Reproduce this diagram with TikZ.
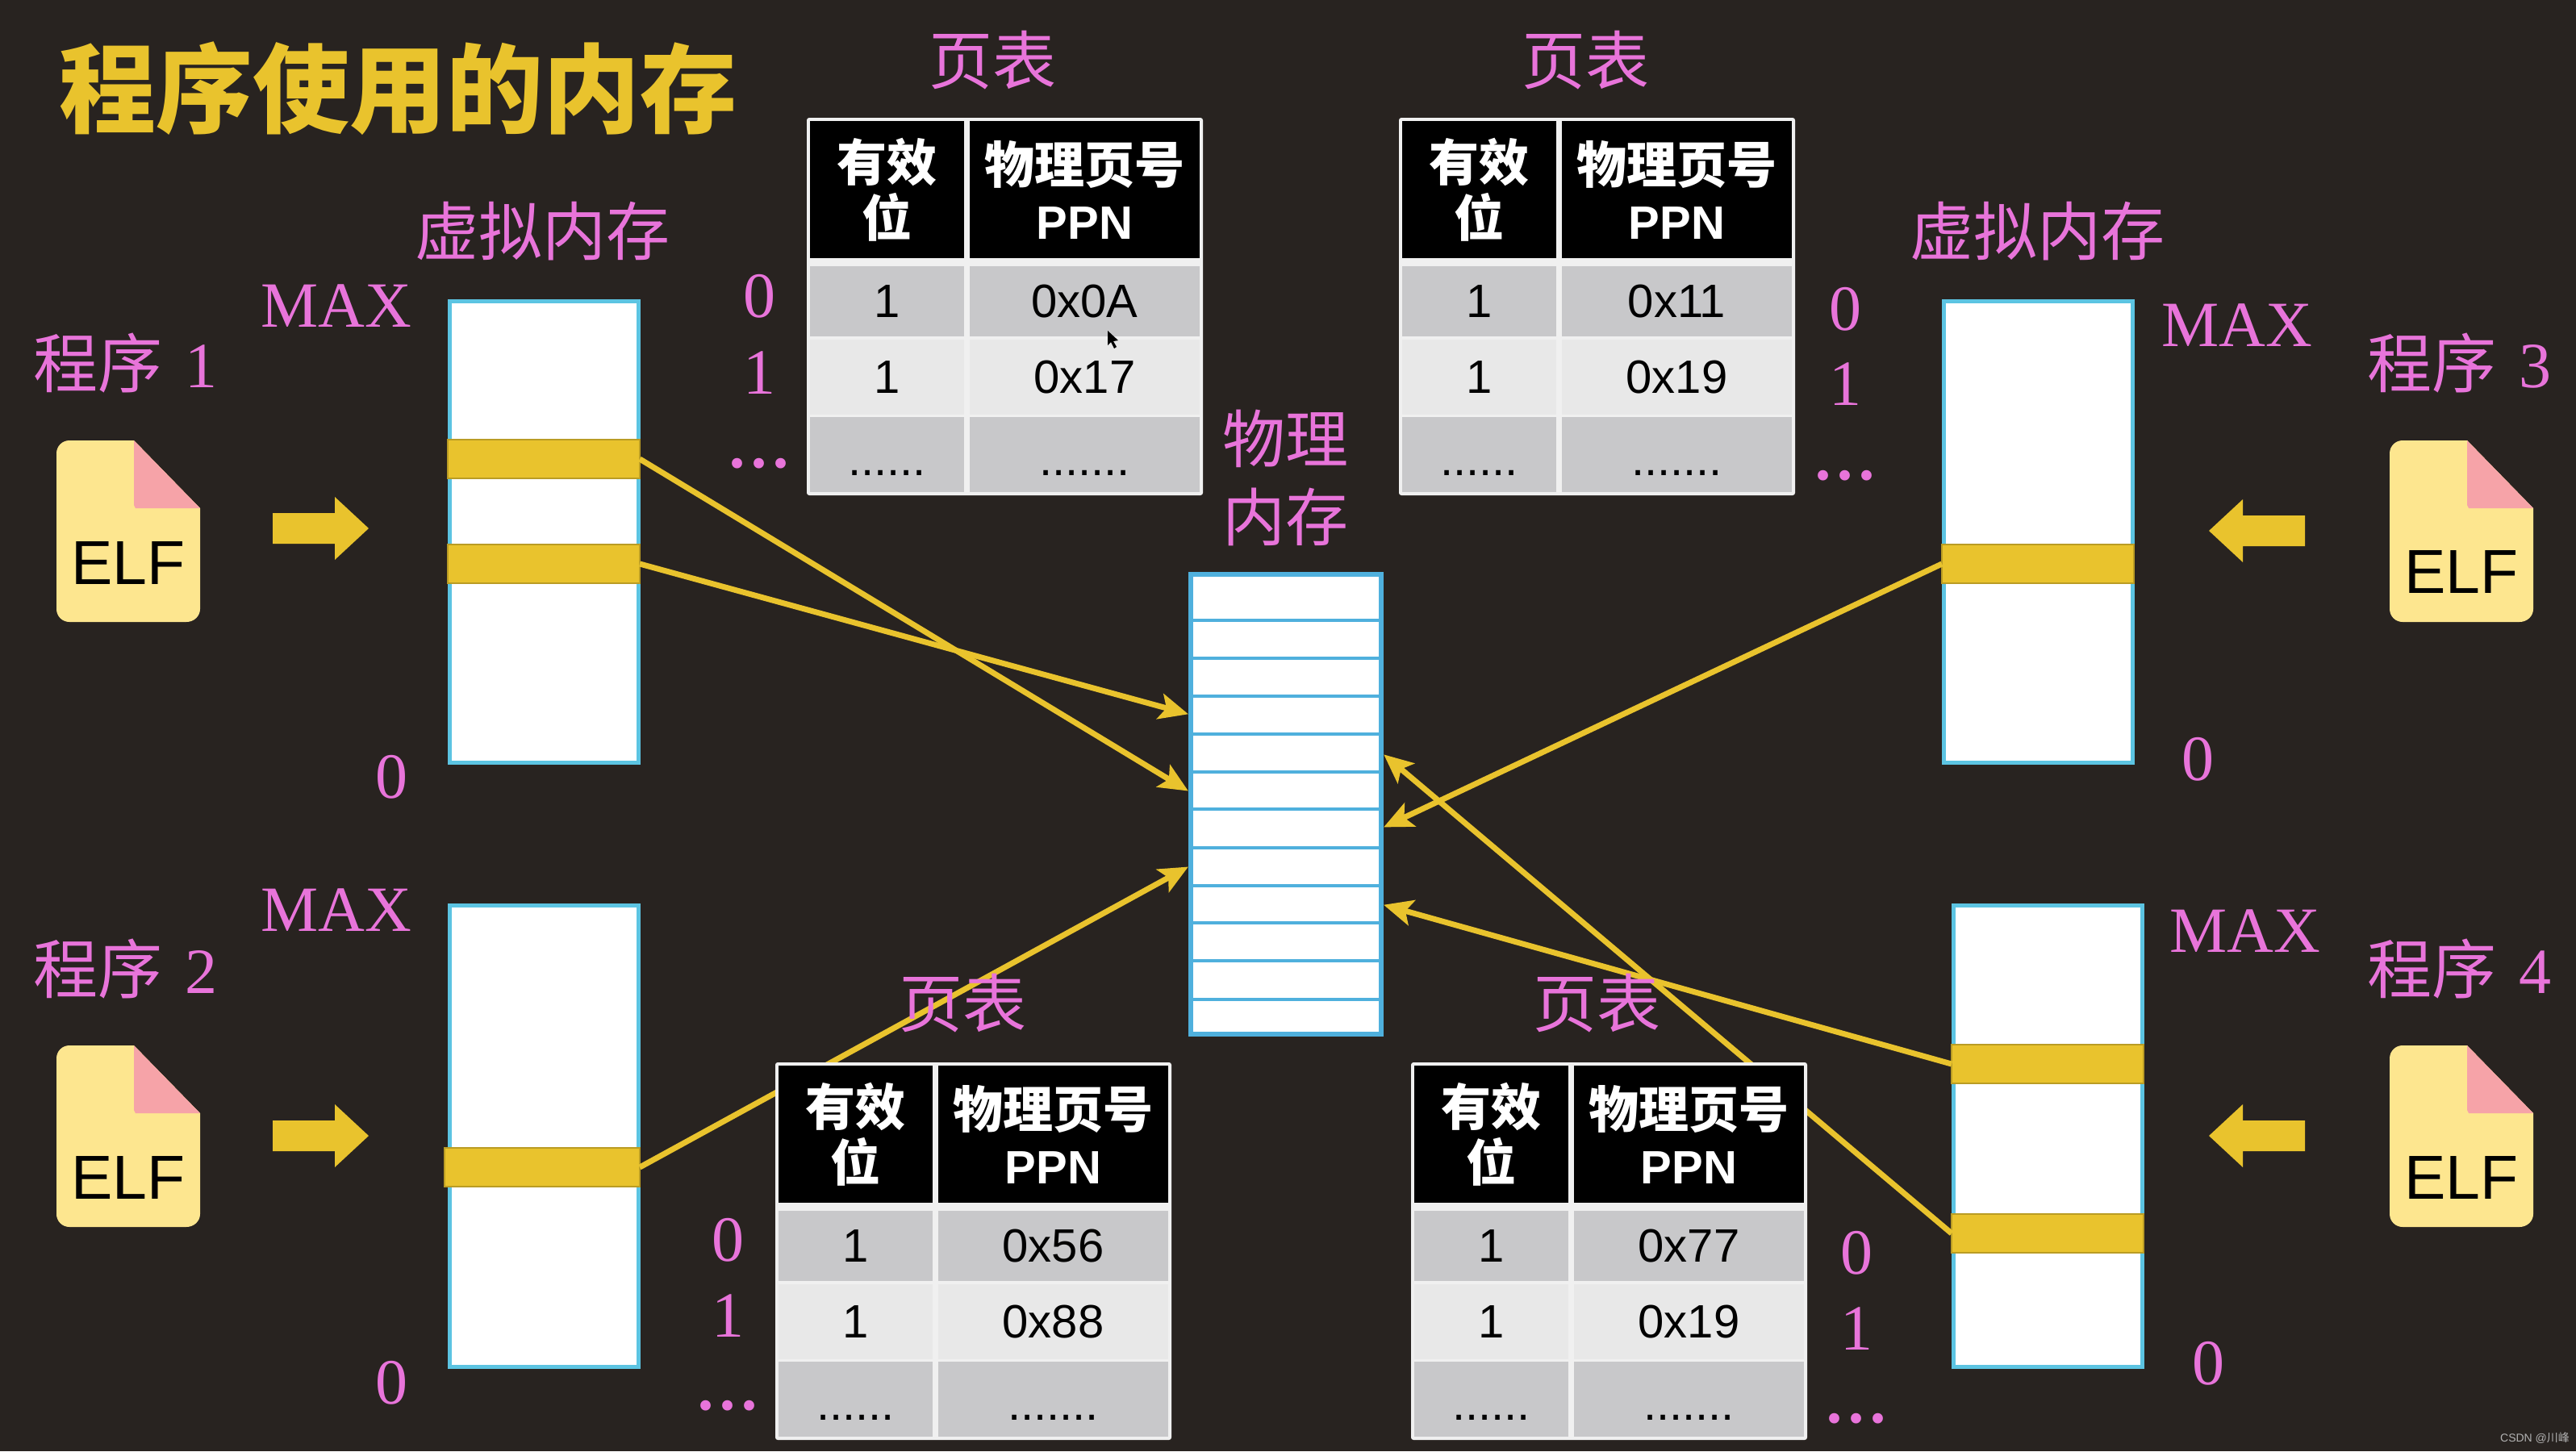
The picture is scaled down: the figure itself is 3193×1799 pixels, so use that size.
\documentclass[tikz,border=0pt]{standalone}
\usepackage{fontspec}
\setmainfont{Liberation Serif}
\newfontfamily\cjk{Noto Sans CJK SC}
\newfontfamily\sans{Liberation Sans}
\usetikzlibrary{arrows.meta}
\definecolor{bgc}{HTML}{282320}
\definecolor{gold}{HTML}{E9C32D}
\definecolor{pinkc}{HTML}{E874DA}
\definecolor{cyanc}{HTML}{5CC4E2}
\definecolor{memc}{HTML}{4FB0DD}
\definecolor{rowa}{HTML}{C8C8CA}
\definecolor{rowb}{HTML}{E8E8E8}
\definecolor{tline}{HTML}{F0F0F0}
\definecolor{elfc}{HTML}{FDE68F}
\definecolor{foldc}{HTML}{F6A3A8}
\tikzset{
  x=1pt,y=-1pt,
  lbl/.style={text=pinkc,inner sep=0pt,font=\fontsize{80}{88}\selectfont},
  vmem/.style={draw=cyanc,line width=5pt,fill=white,minimum width=234pt,minimum height=572pt,inner sep=0pt,outer sep=0pt},
  band/.style={draw=gold!80!black,line width=1.5pt,fill=gold,minimum width=238pt,minimum height=48pt,inner sep=0pt,outer sep=0pt},
  pmem/.style={draw=memc,line width=6pt,fill=white,minimum width=236pt,minimum height=570pt,inner sep=0pt,outer sep=0pt},
  conn/.style={draw=gold,line width=7pt,-{Stealth[length=36pt,width=32pt,inset=8pt]},shorten >=-1pt},
  cellh/.style={fill=black,text=white,align=center,inner sep=0pt,outer sep=0pt,font=\fontsize{62}{69}\selectfont\bfseries},
  celld/.style={inner sep=0pt,outer sep=0pt,text=black,font=\sans\fontsize{58}{66}\selectfont},
  blockarrow/.style={fill=gold,draw=none},
  elficon/.style={fill=elfc,draw=none},
  elftxt/.style={inner sep=0pt,text=black,font=\sans\fontsize{77}{80}\selectfont},
  idots/.style={lbl,anchor=base,font=\fontsize{108}{108}\selectfont},
}
% #1 name, #2 x, #3 y, #4 ppn row1, #5 ppn row2
\newcommand{\pagetable}[5]{%
\begin{scope}[shift={(#2,#3)}]
  \fill[tline,rounded corners=3pt] (0,0) rectangle (491,468);
  \node[cellh,minimum width=191pt,minimum height=170pt] (#1hv) at (99.5,89) {{\cjk\bfseries 有效}\\{\cjk\bfseries 位}};
  \node[cellh,minimum width=285pt,minimum height=170pt] (#1hp) at (344.5,89) {{\cjk\bfseries 物理页号}\\{\sans\bfseries\fontsize{58}{69}\selectfont PPN}};
  \node[celld,fill=rowa,minimum width=191pt,minimum height=87pt] (#1av) at (99.5,227.5) {1};
  \node[celld,fill=rowa,minimum width=285pt,minimum height=87pt] (#1ap) at (344.5,227.5) {#4};
  \node[celld,fill=rowb,minimum width=191pt,minimum height=93pt] (#1bv) at (99.5,321.5) {1};
  \node[celld,fill=rowb,minimum width=285pt,minimum height=93pt] (#1bp) at (344.5,321.5) {#5};
  \node[fill=rowa,minimum width=191pt,minimum height=93pt,inner sep=0pt,outer sep=0pt] (#1cv) at (99.5,417.5) {};
  \node[fill=rowa,minimum width=285pt,minimum height=93pt,inner sep=0pt,outer sep=0pt] (#1cp) at (344.5,417.5) {};
  \node[celld,anchor=base] (#1dv) at (99.5,443) {......};
  \node[celld,anchor=base] (#1dp) at (344.5,443) {.......};
\end{scope}}
% #1 x of left, #2 top
\newcommand{\elfshape}[2]{%
\begin{scope}[shift={(#1,#2)}]
  \fill[elficon] (96,0) -- (16,0) to[out=180,in=90] (0,16) -- (0,209) to[out=-90,in=180] (16,225) -- (161,225) to[out=0,in=-90] (178,209) -- (178,84) -- cycle;
  \fill[foldc] (96,0) -- (178,84) -- (98,84) -- (96,80) -- cycle;
\end{scope}}
\newcommand{\rightblock}[2]{\fill[blockarrow] (#1,#2-19) -- (#1+77,#2-19) -- (#1+77,#2-39) -- (#1+119,#2) -- (#1+77,#2+39) -- (#1+77,#2+19) -- (#1,#2+19) -- cycle;}
\newcommand{\leftblock}[2]{\fill[blockarrow] (#1,#2-19) -- (#1-77,#2-19) -- (#1-77,#2-39) -- (#1-119,#2) -- (#1-77,#2+39) -- (#1-77,#2+19) -- (#1,#2+19) -- cycle;}
\newcommand{\prog}[1]{{\cjk 程序}\hspace{28pt}#1}
\begin{document}
\begin{tikzpicture}
\useasboundingbox (0,0) rectangle (3193,1799);
\fill[bgc] (0,0) rectangle (3193,1799);

% title
\node[inner sep=0pt,text=gold,font=\cjk\bfseries\fontsize{120}{125}\selectfont] (title) at (493,110) {程序使用的内存};

% virtual memory columns
\node[vmem] (v1) at (674,659) {};
\node[vmem] (v2) at (674,1408) {};
\node[vmem] (v3) at (2526,659) {};
\node[vmem] (v4) at (2538,1408) {};
\node[band] (b1a) at (674,569) {};
\node[band] (b1b) at (674,699) {};
\node[band,minimum width=242pt] (b2a) at (672,1447) {};
\node[band] (b3a) at (2526,699) {};
\node[band] (b4a) at (2538,1319) {};
\node[band] (b4b) at (2538,1529) {};

% physical memory
\node[pmem] (pm) at (1594,997) {};
\foreach \yy in {769,816,863,910,957,1003,1051,1098,1144,1191,1239}{
  \draw[memc,line width=3.5pt] (pm.west |- 0,\yy) -- (pm.east |- 0,\yy);
}
\coordinate (m1) at (1472,980);
\coordinate (m2) at (1472,885);
\coordinate (m3) at (1472,1075);
\coordinate (m4) at (1716,1025);
\coordinate (m5) at (1716,1122);
\coordinate (m6) at (1716,936);

% connectors (behind the tables)
\draw[conn] (b1a.east) -- (m1);
\draw[conn] (b1b.east) -- (m2);
\draw[conn] (b2a.east) -- (m3);
\draw[conn] (b3a.west) -- (m4);
\draw[conn] (b4a.west) -- (m5);
\draw[conn] (b4b.west) -- (m6);

% page tables
\pagetable{ta}{1000}{146}{0x0A}{0x17}
\pagetable{tb}{1734}{146}{0x11}{0x19}
\pagetable{tc}{961}{1317}{0x56}{0x88}
\pagetable{td}{1749}{1317}{0x77}{0x19}

% mouse pointer
\fill[black] (1373,410) -- (1373,428) -- (1377,424) -- (1381,432) -- (1384,430) -- (1380,423) -- (1386,422) -- cycle;

% labels
\node[lbl,font=\cjk\fontsize{79}{88}\selectfont] (pa) at (1230,75) {页表};
\node[lbl,font=\cjk\fontsize{79}{88}\selectfont] (pb) at (1965,75) {页表};
\node[lbl,font=\cjk\fontsize{79}{88}\selectfont] (pc) at (1193,1244) {页表};
\node[lbl,font=\cjk\fontsize{79}{88}\selectfont] (pd) at (1979,1244) {页表};
\node[lbl,font=\cjk\fontsize{79}{88}\selectfont] (va) at (672,287) {虚拟内存};
\node[lbl,font=\cjk\fontsize{79}{88}\selectfont] (vb) at (2525,287) {虚拟内存};
\node[lbl,font=\cjk\fontsize{78}{88}\selectfont] (wa) at (1593,544) {物理};
\node[lbl,font=\cjk\fontsize{78}{88}\selectfont] (wb) at (1593,641) {内存};
\node[lbl] (prog1) at (155,450) {\prog{1}};
\node[lbl] (prog2) at (155,1201) {\prog{2}};
\node[lbl] (prog3) at (3048,450) {\prog{3}};
\node[lbl] (prog4) at (3048,1201) {\prog{4}};
\node[lbl] (max1) at (417,379) {MAX};
\node[lbl] (max2) at (417,1128) {MAX};
\node[lbl] (max3) at (2773,403) {MAX};
\node[lbl] (max4) at (2783,1154) {MAX};
\node[lbl] (zero1) at (485,963) {0};
\node[lbl] (zero2) at (485,1714) {0};
\node[lbl] (zero3) at (2724,941) {0};
\node[lbl] (zero4) at (2737,1690) {0};
\node[lbl] (ia0) at (941,367) {0};
\node[lbl] (ia1) at (941,462) {1};
\node[idots] (iad) at (941,579) {...};
\node[lbl] (ib0) at (2287,383) {0};
\node[lbl] (ib1) at (2287,476) {1};
\node[idots] (ibd) at (2287,594) {...};
\node[lbl] (ic0) at (902,1537) {0};
\node[lbl] (ic1) at (902,1631) {1};
\node[idots] (icd) at (902,1747) {...};
\node[lbl] (id0) at (2301,1553) {0};
\node[lbl] (id1) at (2301,1647) {1};
\node[idots] (idd) at (2301,1763) {...};

% ELF icons
\elfshape{70}{546}
\elfshape{70}{1296}
\elfshape{2962}{546}
\elfshape{2962}{1296}
\node[elftxt] (e1) at (159,698) {ELF};
\node[elftxt] (e2) at (159,1460) {ELF};
\node[elftxt] (e3) at (3051,709) {ELF};
\node[elftxt] (e4) at (3051,1460) {ELF};

% block arrows
\rightblock{338}{655}
\rightblock{338}{1408}
\leftblock{2857}{658}
\leftblock{2857}{1408}

% watermark
\node[inner sep=0pt,text=white!70!black,font=\sans\fontsize{14}{16}\selectfont] (wm) at (3142,1783) {CSDN @{\cjk 川峰}};
\end{tikzpicture}
\end{document}
